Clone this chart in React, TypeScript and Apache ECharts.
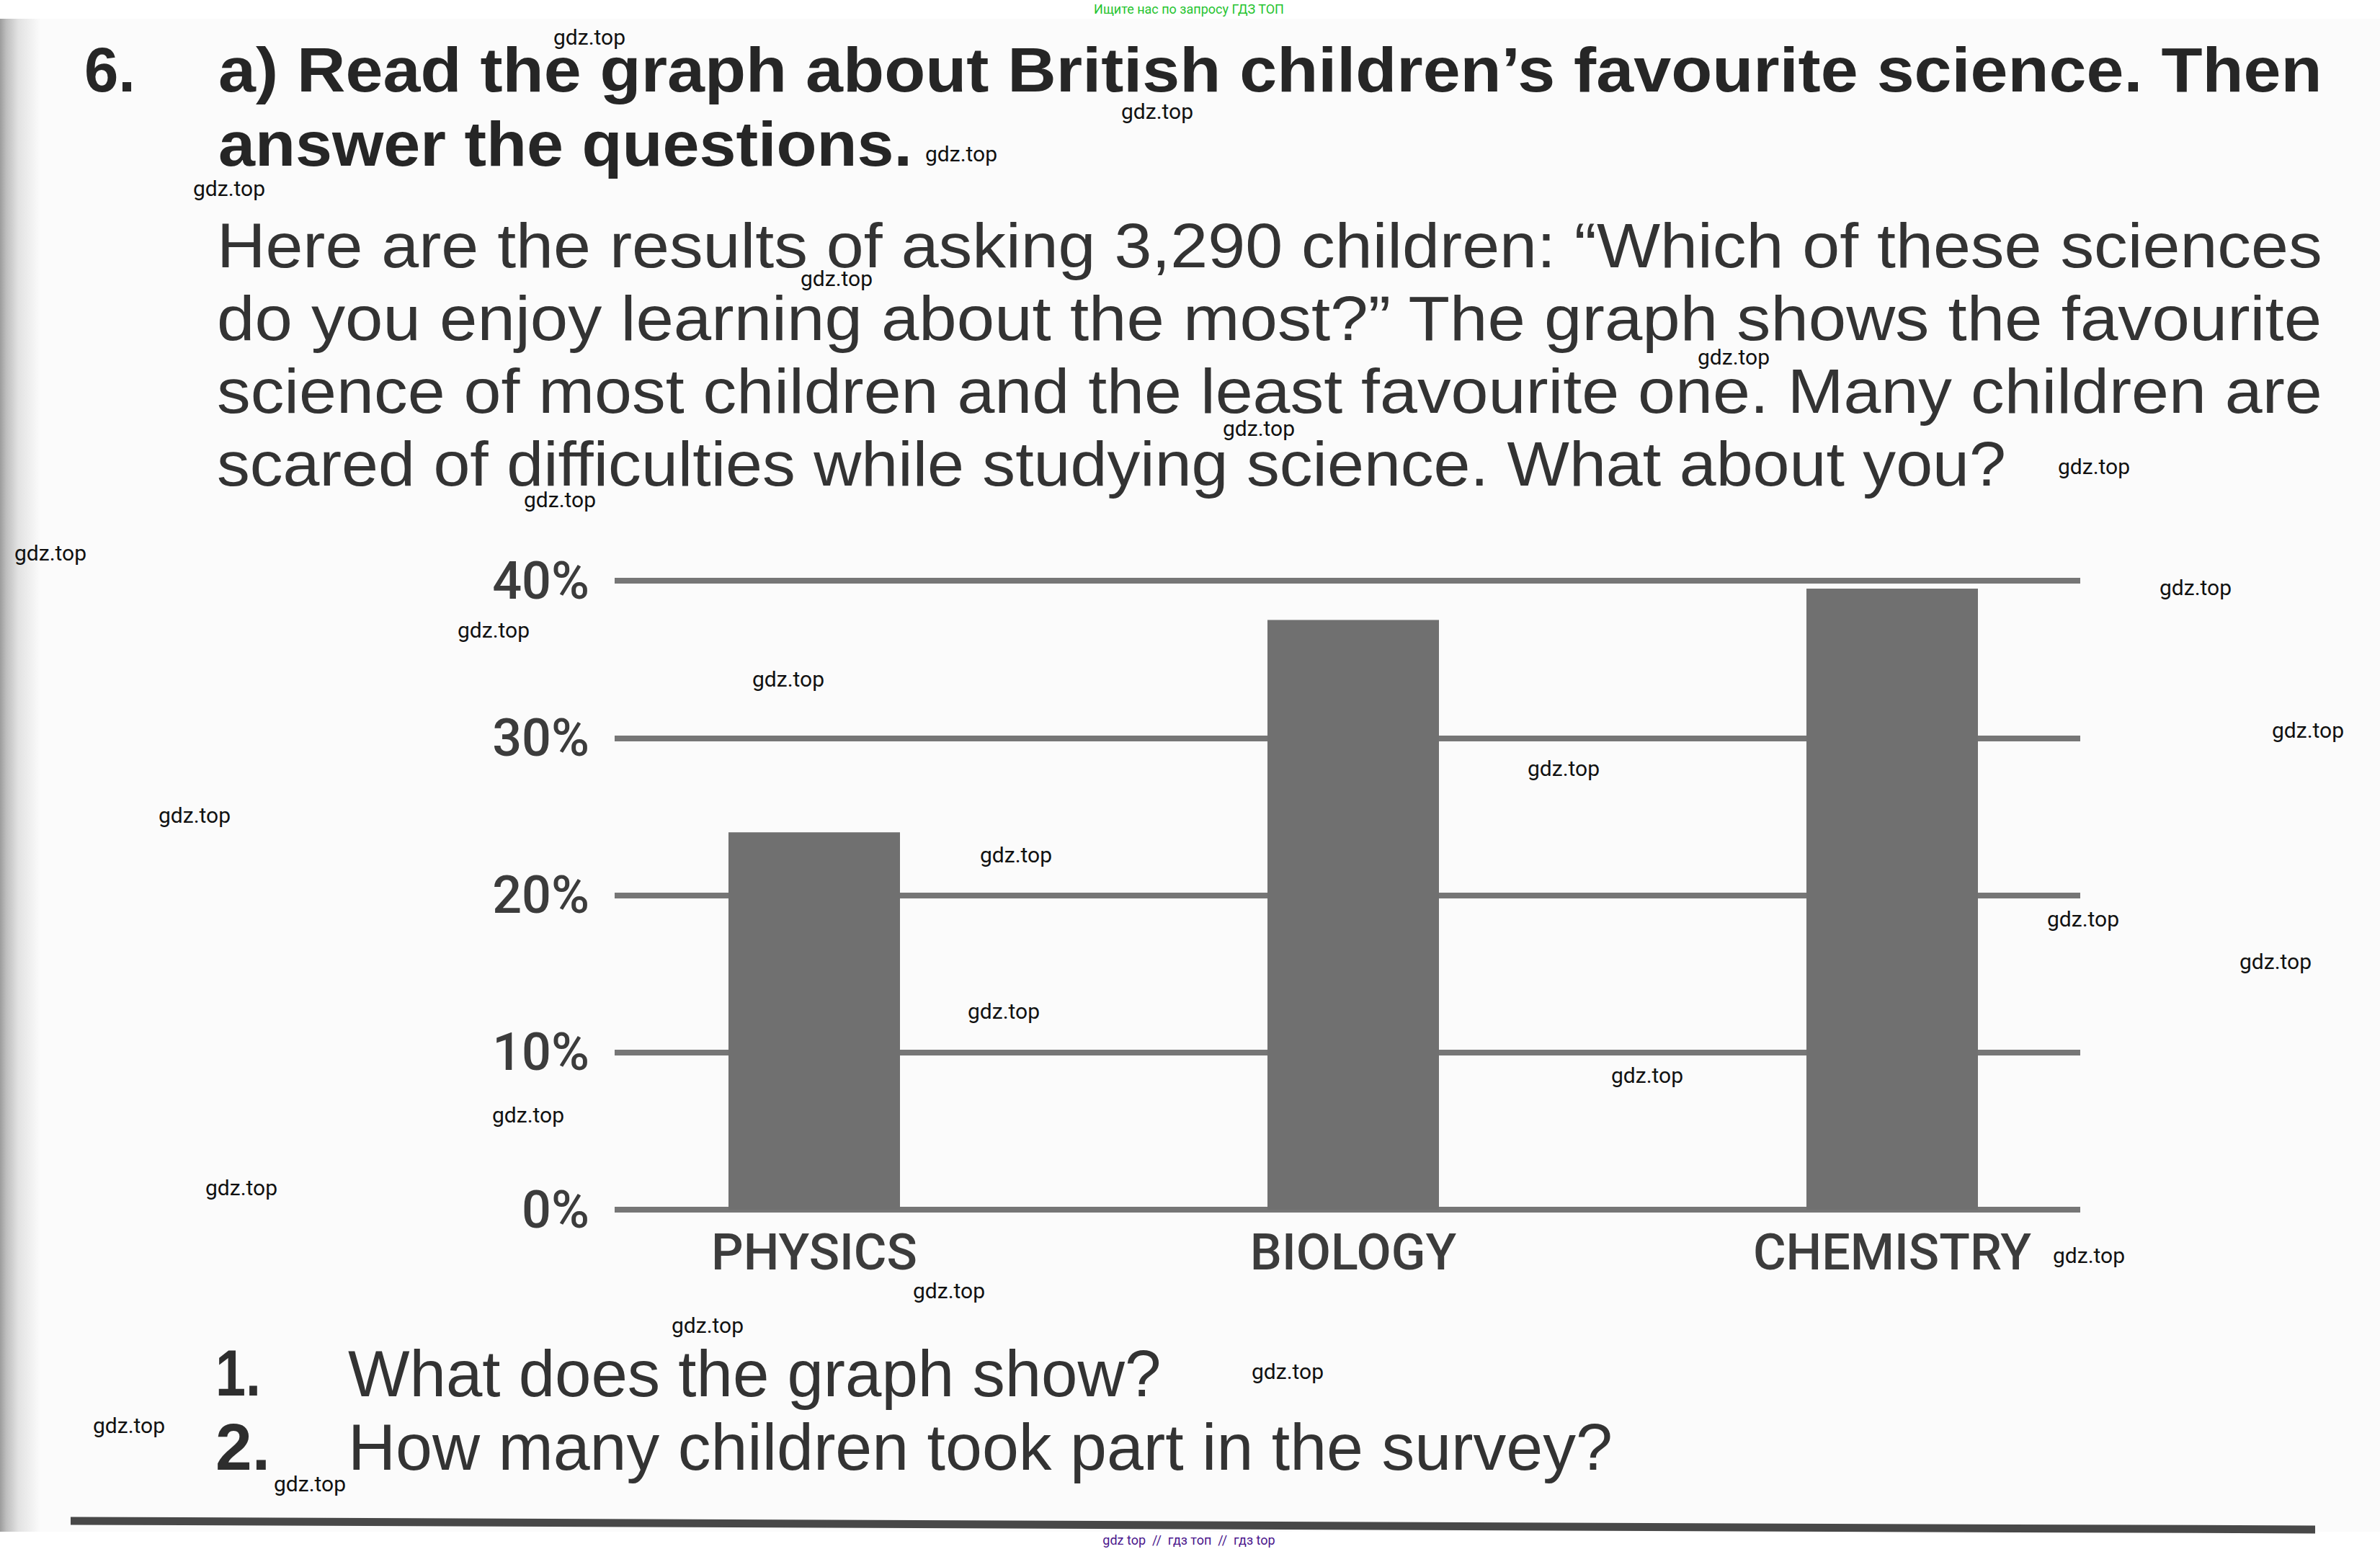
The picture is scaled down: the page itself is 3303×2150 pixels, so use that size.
import React, { useEffect, useRef } from "react";
import * as echarts from "echarts";

const categories = ["PHYSICS", "BIOLOGY", "CHEMISTRY"];
const shares = [24, 37.5, 39.5];
const yMin = 0;
const yMax = 40;
const yStep = 10;

const titleNumber = "6.";
const titleLines = [
  "a) Read the graph about British children’s favourite science. Then",
  "answer the questions.",
];
const paragraphLines = [
  "Here are the results of asking 3,290 children: “Which of these sciences",
  "do you enjoy learning about the most?” The graph shows the favourite",
  "science of most children and the least favourite one. Many children are",
  "scared of difficulties while studying science. What about you?",
];
const questionNumbers = ["1.", "2."];
const questions = [
  "What does the graph show?",
  "How many children took part in the survey?",
];
const watermarkText = "gdz.top";
const watermarkSpots: [number, number][] = [
  [818, 51], [1606, 154], [1334, 213], [318, 261], [1161, 386], [2406, 495],
  [1747, 594], [2906, 647], [777, 693], [70, 767], [3047, 815], [685, 874],
  [1094, 942], [3203, 1013], [2170, 1066], [270, 1131], [1410, 1186],
  [2891, 1275], [3158, 1334], [1393, 1403], [2286, 1492], [733, 1547],
  [335, 1648], [2899, 1742], [1317, 1791], [982, 1839], [1787, 1903],
  [179, 1978], [430, 2059],
];
const topNote = "Ищите нас по запросу ГДЗ ТОП";
const bottomNote = "gdz top  //  гдз топ  //  гдз top";

function measure(text: string, font: string): number {
  const c = document.createElement("canvas").getContext("2d");
  if (!c) return 1;
  c.font = font;
  return c.measureText(text).width || 1;
}

function fitText(
  text: string,
  left: number,
  baseline: number,
  right: number | null,
  fontSize: number,
  bold: boolean,
  fill: string,
  family = "Liberation Sans"
) {
  const weight = bold ? "bold" : "normal";
  const w = measure(text, `${weight} ${fontSize}px "${family}"`);
  const scaleX = right === null ? 1 : (right - left) / w;
  return {
    type: "text",
    x: left,
    y: baseline - fontSize * 0.35,
    scaleX,
    scaleY: 1,
    z: 10,
    style: {
      text,
      fontSize,
      fontFamily: family,
      fontWeight: weight,
      fill,
      align: "left",
      verticalAlign: "middle",
      textAlign: "left",
      textVerticalAlign: "middle",
    },
  };
}

export default function App() {
  const ref = useRef<HTMLDivElement>(null);

  useEffect(() => {
    if (!ref.current) return;
    const chart = echarts.init(ref.current, null, { renderer: "svg" });

    const graphics: any[] = [];
    // page background
    graphics.push({
      type: "rect",
      shape: { x: 0, y: 26, width: 3303, height: 2100 },
      style: { fill: "#fbfbfb" },
      z: -10,
    });
    // left scan shadow
    graphics.push({
      type: "rect",
      shape: { x: 0, y: 26, width: 56, height: 2100 },
      style: {
        fill: new echarts.graphic.LinearGradient(0, 0, 1, 0, [
          { offset: 0, color: "#9c9c9c" },
          { offset: 0.15, color: "#bdbdbd" },
          { offset: 0.45, color: "#e2e2e2" },
          { offset: 1, color: "#fbfbfb" },
        ]),
      },
      z: -9,
    });
    // bottom rule
    graphics.push({
      type: "line",
      shape: { x1: 98, y1: 2111, x2: 3213, y2: 2123 },
      style: { stroke: "#484848", lineWidth: 11 },
      z: 5,
    });

    // title
    graphics.push(fitText(titleNumber, 117, 127, 188, 88, true, "#262626"));
    graphics.push(fitText(titleLines[0], 303, 127, 3224, 88, true, "#262626"));
    graphics.push(fitText(titleLines[1], 303, 230, 1266, 88, true, "#262626"));

    // paragraph
    const paraBase = [371, 472, 573, 674];
    const paraRight = [3224, 3224, 3224, 2785];
    paragraphLines.forEach((t, i) => {
      graphics.push(fitText(t, 301, paraBase[i], paraRight[i], 88, false, "#333333"));
    });

    // questions
    const qBase = [1938, 2040];
    const qRight = [1612, 2238];
    const numRight = [362, 375];
    questionNumbers.forEach((n, i) => {
      graphics.push(fitText(n, 299, qBase[i], numRight[i], 90, true, "#2e2e2e"));
    });
    questions.forEach((t, i) => {
      graphics.push(fitText(t, 483, qBase[i], qRight[i], 90, false, "#333333"));
    });

    // watermarks
    watermarkSpots.forEach(([x, y]) => {
      graphics.push({
        type: "text",
        x,
        y,
        z: 20,
        style: {
          text: watermarkText,
          fontSize: 30,
          fontFamily: "Roboto",
          fill: "#111111",
          align: "center",
          verticalAlign: "middle",
          textAlign: "center",
          textVerticalAlign: "middle",
        },
      });
    });
    graphics.push({
      type: "text",
      x: 1650,
      y: 12,
      z: 20,
      style: {
        text: topNote,
        fontSize: 18,
        fontFamily: "Roboto",
        fill: "#27c431",
        align: "center",
        verticalAlign: "middle",
        textAlign: "center",
        textVerticalAlign: "middle",
      },
    });
    graphics.push({
      type: "text",
      x: 1650,
      y: 2137,
      z: 20,
      style: {
        text: bottomNote,
        fontSize: 18,
        fontFamily: "Roboto",
        fill: "#4a168c",
        align: "center",
        verticalAlign: "middle",
        textAlign: "center",
        textVerticalAlign: "middle",
      },
    });

    const option: any = {
      animation: false,
      backgroundColor: "#ffffff",
      grid: [
        { left: 756, right: 303, top: 806, bottom: 471, containLabel: false },
        { left: 853, right: 416, top: 806, bottom: 471, containLabel: false },
      ],
      xAxis: [
        {
          type: "category",
          gridIndex: 0,
          data: categories,
          axisLine: { show: false },
          axisTick: { show: false },
          axisLabel: {
            margin: 24,
            fontFamily: "Roboto",
            fontWeight: 500,
            fontSize: 70,
            color: "#3c3c3c",
          },
        },
        {
          type: "value",
          gridIndex: 1,
          show: false,
          min: 0,
          max: 1,
        },
      ],
      yAxis: [
        {
          type: "value",
          gridIndex: 0,
          min: yMin,
          max: yMax,
          interval: yStep,
          axisLine: { show: false },
          axisTick: { show: false },
          axisLabel: { show: false },
          splitLine: { show: false },
        },
        {
          type: "value",
          gridIndex: 1,
          min: yMin,
          max: yMax,
          interval: yStep,
          axisLine: { show: false },
          axisTick: { show: false },
          axisLabel: {
            margin: 35,
            fontFamily: "Roboto",
            fontWeight: 500,
            fontSize: 72,
            color: "#3c3c3c",
            formatter: "{value}%",
          },
          splitLine: {
            show: true,
            showMinLine: true,
            showMaxLine: true,
            lineStyle: { color: "#767676", width: 8 },
          },
        },
      ],
      series: [
        {
          type: "bar",
          xAxisIndex: 0,
          yAxisIndex: 0,
          data: shares,
          barWidth: 238,
          itemStyle: { color: "#707070" },
          z: 3,
        },
      ],
      graphic: { elements: graphics },
    };

    chart.setOption(option);
    return () => chart.dispose();
  }, []);

  return (
    <div
      ref={ref}
      style={{ position: "fixed", left: 0, top: 0, width: 3303, height: 2150 }}
    />
  );
}
